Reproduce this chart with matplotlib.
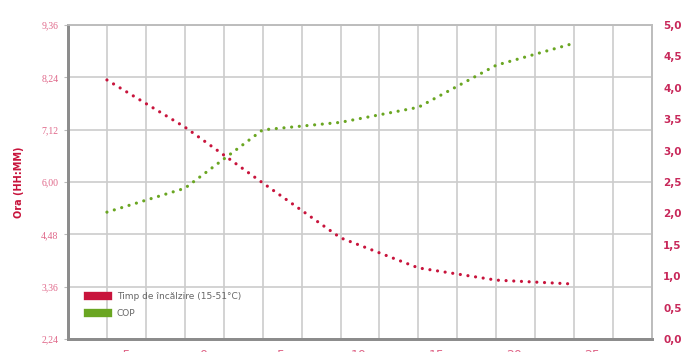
import matplotlib
matplotlib.use("Agg")
import matplotlib.pyplot as plt
import matplotlib.transforms as mtransforms
from matplotlib.lines import Line2D

# =========================
# DATA
# =========================
temperatures = [-5, 0, 5, 10, 15, 20, 25]
heat_time_hours = [8.34, 7.26, 5.98, 4.72, 4.03, 3.75, 3.66]
cop_values = [2.02, 2.40, 3.33, 3.45, 3.69, 4.36, 4.71]

x_labels = ["-5", "0", "5", "10", "15", "20", "25"]
left_ticks = [2.4, 3.6, 4.8, 6.0, 7.2, 8.4, 9.6]
left_labels = ["2,24", "3,36", "4,48", "6,00", "7,12", "8,24", "9,36"]
right_ticks = [i * 0.5 for i in range(11)]
right_labels = [f"{v:.1f}".replace(".", ",") for v in right_ticks]

legend_labels = ["Timp de încălzire (15-51°C)", "COP"]

RED = "#c8143c"
GREEN = "#6aa622"
LEFT_TXT = "#e0688a"
RIGHT_TXT = "#c8285a"

# =========================
# FIGURE
# =========================
fig = plt.figure(figsize=(6.94, 3.52), dpi=100)
ax = fig.add_axes([68 / 694, 1 - 339 / 352, (652 - 68) / 694, (339 - 25) / 352])
ax2 = ax.twinx()

ax.set_xlim(-7.5, 30)
ax.set_ylim(2.4, 9.6)
ax2.set_ylim(0, 5)

# grid (vertical lines every 2.5 degrees)
ax.xaxis.remove_overlapping_locs = False
ax.set_xticks([-7.5 + 2.5 * i for i in range(16)], minor=True)
ax.grid(True, which="minor", axis="x", color="#cccccc", lw=1.2)
ax.grid(True, which="major", axis="y", color="#cccccc", lw=1.2)
ax.set_axisbelow(True)

dots = dict(lw=2.3, linestyle=(0, (0.01, 2.4)), dash_capstyle="round")
ax.plot(temperatures, heat_time_hours, color=RED, zorder=3, **dots)
ax2.plot(temperatures, cop_values, color=GREEN, zorder=3, **dots)

# x axis (labels mostly cut off at the bottom edge)
ax.set_xticks(temperatures)
ax.set_xticklabels(x_labels, color=LEFT_TXT, fontsize=9, family="DejaVu Sans")
ax.tick_params(axis="x", which="both", length=0, pad=7)
offset = mtransforms.ScaledTranslation(0.18, 0, fig.dpi_scale_trans)
for lab in ax.get_xticklabels():
    lab.set_transform(lab.get_transform() + offset)

# left axis
ax.set_yticks(left_ticks)
ax.set_yticklabels(left_labels, color=LEFT_TXT, fontsize=7, family="Liberation Serif")
ax.tick_params(axis="y", length=3, color="#bbbbbb", pad=4)
ax.set_ylabel("Ora (HH:MM)", color=RED, fontsize=7, fontweight="bold", labelpad=12)

# right axis
ax2.set_yticks(right_ticks)
ax2.set_yticklabels(right_labels, color=RIGHT_TXT, fontsize=7.5, fontweight="bold")
ax2.tick_params(axis="y", length=0, pad=8)
ax2.set_ylabel("COP", color=RED, fontsize=7, fontweight="bold", labelpad=10)

# spines
for a in (ax, ax2):
    a.spines["left"].set_color("#8c8c8c")
    a.spines["left"].set_linewidth(2)
    a.spines["bottom"].set_color("#8c8c8c")
    a.spines["bottom"].set_linewidth(2)
    a.spines["top"].set_color("#bdbdbd")
    a.spines["top"].set_linewidth(1.2)
    a.spines["right"].set_color("#bdbdbd")
    a.spines["right"].set_linewidth(1.2)

# legend
handles = [Line2D([], [], color=RED, lw=6), Line2D([], [], color=GREEN, lw=6)]
leg = ax.legend(handles, legend_labels, loc="lower left", bbox_to_anchor=(0.02, 0.04),
                frameon=False, fontsize=6.5, handlelength=2.2, labelspacing=0.9,
                handletextpad=1.0)
for t in leg.get_texts():
    t.set_color("#666666")

fig.savefig("out.png", dpi=100)
